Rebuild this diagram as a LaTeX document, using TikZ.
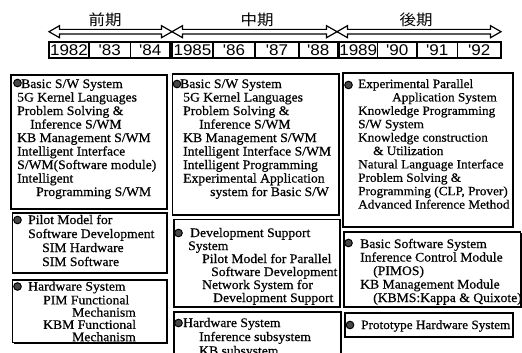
\documentclass[tikz,border=0pt]{standalone}
\usepackage{fontspec}
\setmainfont{Liberation Serif}[FakeStretch=1.05, FakeBold=0.6]
\newfontfamily\yearfont{Liberation Sans}[FakeStretch=1.1]
\newfontfamily\jpfont{Noto Sans CJK JP}[FakeStretch=1.1]
\usetikzlibrary{shadows}
\newcommand\panelbox[5]{%
  \node[panel, minimum width={(#4-#2)*1pt}, minimum height={(#5-#3)*1pt}] (#1) at (#2,#3) {};}
\newcommand\harr[2]{%
  \draw[harrow] (#1,31.7) -- ({#1+10.5},25.7) -- ({#1+10.5},29.4) -- ({#2-10.5},29.4)
    -- ({#2-10.5},25.7) -- (#2,31.7) -- ({#2-10.5},37.7) -- ({#2-10.5},34)
    -- ({#1+10.5},34) -- ({#1+10.5},37.7) -- cycle;}
\begin{document}
\begin{tikzpicture}[x=1pt,y=-1pt,
  panel/.style={draw, line width=1.2pt, fill=white, anchor=north west, inner sep=0pt, outer sep=0pt,
    drop shadow={shadow xshift=1.1pt, shadow yshift=-1.1pt, opacity=1, fill=black}},
  yearbox/.style={draw, line width=1.2pt, inner sep=0pt, minimum height=16pt, text height=11pt,
    text depth=0pt, font=\yearfont\fontsize{15.5}{16}\selectfont},
  txt/.style={anchor=north west, inner sep=0pt, align=left, font=\fontsize{13}{#1}\selectfont},
  txtR/.style={anchor=north west, inner sep=0pt, align=left, font=\fontsize{12.6}{#1}\selectfont},
  bul/.style={circle, draw=black, fill=black!72, line width=1pt, inner sep=0pt, minimum size=7.6pt},
  period/.style={font=\jpfont\fontsize{15}{16}\selectfont, inner sep=0pt},
  harrow/.style={draw, line width=1.2pt, line join=miter, fill=white}
]
\useasboundingbox (0,0) rectangle (522,353);
\clip (0,0) rectangle (522,353);

% period labels and arrows
\node[period] (p1) at (105,20) {前期};
\node[period] (p2) at (257,20) {中期};
\node[period] (p3) at (416,20) {後期};
\harr{49}{172}
\harr{172}{337}
\harr{337}{501}

% year row
\node[yearbox, minimum width=40pt]   (y82) at (69,50)     {1982};
\node[yearbox, minimum width=41.5pt] (y83) at (109.75,50) {'83};
\node[yearbox, minimum width=39.5pt] (y84) at (150.25,50) {'84};
\node[yearbox, minimum width=41pt]   (y85) at (192.5,50)  {1985};
\node[yearbox, minimum width=42pt]   (y86) at (234,50)    {'86};
\node[yearbox, minimum width=44pt]   (y87) at (277,50)    {'87};
\node[yearbox, minimum width=38.5pt] (y88) at (318.25,50) {'88};
\node[yearbox, minimum width=38.5pt] (y89) at (358.25,50) {1989};
\node[yearbox, minimum width=39.5pt] (y90) at (397.25,50) {'90};
\node[yearbox, minimum width=40.5pt] (y91) at (437.25,50) {'91};
\node[yearbox, minimum width=43.5pt] (y92) at (479.25,50) {'92};

% panels
\panelbox{a1}{11}{75}{167}{209}
\panelbox{a2}{12.5}{213}{167}{273}
\panelbox{a3}{12.5}{280}{167}{342.5}
\panelbox{b1}{172.5}{74}{339}{215}
\panelbox{b2}{174}{219.5}{340}{307}
\panelbox{b3}{174}{312}{341}{370}
\panelbox{c1}{343}{73}{513}{227}
\panelbox{c2}{344}{232}{520.5}{307}
\panelbox{c3}{345}{313}{513}{337}

% left column
\node[txt=13.5] (a1t) at (17,78.35) {\strut\hspace*{4pt}Basic S/W System\\
  5G Kernel Languages\\ Problem Solving \&\\ \hspace*{13pt}Inference S/WM\\
  KB Management S/WM\\ Intelligent Interface\\ S/WM(Software module)\\
  Intelligent\\ \hspace*{19pt}Programming S/WM};
\node[bul] (a1b) at (17.5,83) {};
\node[txt=14] (a2t) at (28,214) {\strut Pilot Model for\\ Software Development\\
  \hspace*{14pt}SIM Hardware\\ \hspace*{14pt}SIM Software};
\node[bul] (a2b) at (17.5,220) {};
\node[txt=12.3] (a3t) at (28,281.4) {\strut Hardware System\\ \hspace*{15pt}PIM Functional\\
  \hspace*{44pt}Mechanism\\ \hspace*{15pt}KBM Functional\\ \hspace*{44pt}Mechanism};
\node[bul] (a3b) at (17.5,286.5) {};

% middle column
\node[txt=13.5] (b1t) at (180,78.35) {\strut Basic S/W System\\
  \hspace*{3pt}5G Kernel Languages\\ \hspace*{3pt}Problem Solving \&\\
  \hspace*{19pt}Inference S/WM\\ \hspace*{3pt}KB Management S/WM\\
  \hspace*{3pt}Intelligent Interface S/WM\\ \hspace*{3pt}Intelligent Programming\\
  \hspace*{3pt}Experimental Application\\ \hspace*{30pt}system for Basic S/W};
\node[bul] (b1b) at (177,84) {};
\node[txt=13] (b2t) at (188,227.7) {\strut\hspace*{2pt}Development Support\\ System\\
  \hspace*{14pt}Pilot Model for Parallel\\ \hspace*{23pt}Software Development\\
  \hspace*{14pt}Network System for\\ \hspace*{25pt}Development Support};
\node[bul] (b2b) at (178.5,233) {};
\node[txt=14] (b3t) at (183,317) {\strut Hardware System\\ \hspace*{16pt}Inference subsystem\\
  \hspace*{16pt}KB subsystem};
\node[bul] (b3b) at (178.5,323) {};

% right column
\node[txtR=13.4] (c1t) at (358,78.42) {\strut Experimental Parallel\\
  \hspace*{34pt}Application System\\ Knowledge Programming\\ S/W System\\
  Knowledge construction\\ \hspace*{15pt}\& Utilization\\ Natural Language Interface\\
  Problem Solving \&\\ Programming (CLP, Prover)\\ Advanced Inference Method};
\node[bul] (c1b) at (348.5,85) {};
\node[txt=13.5] (c2t) at (360,238.35) {\strut Basic Software System\\
  Inference Control Module\\ \hspace*{13pt}(PIMOS)\\ KB Management Module\\
  \hspace*{13pt}(KBMS:Kappa \& Quixote)};
\node[bul] (c2b) at (348.5,243) {};
\node[txtR=13.5] (c3t) at (361,319.35) {\strut Prototype Hardware System};
\node[bul] (c3b) at (350,325) {};
\end{tikzpicture}
\end{document}
